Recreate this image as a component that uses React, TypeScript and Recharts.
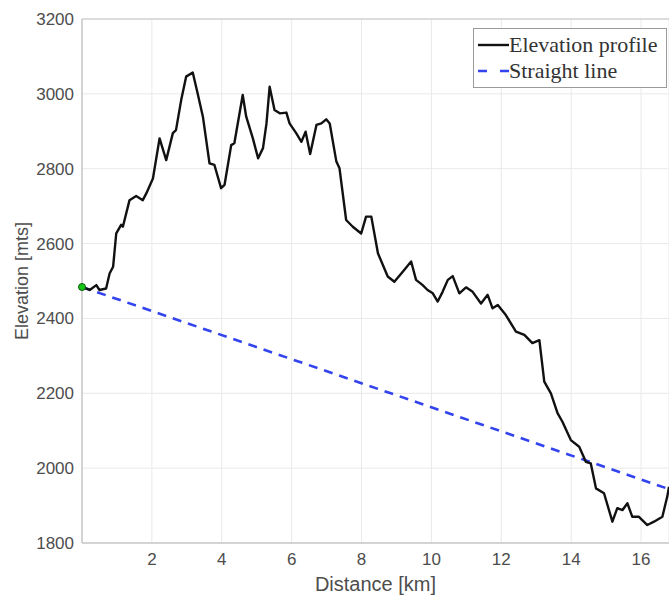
import {
  ComposedChart,
  Line,
  Scatter,
  XAxis,
  YAxis,
  CartesianGrid,
  Label,
  ReferenceLine,
} from "recharts";

// elevation profile (km, m)
const distanceKm = [
  0.0, 0.22, 0.41, 0.5, 0.69, 0.79, 0.89, 0.98, 1.12, 1.17, 1.36, 1.55, 1.74, 1.84, 2.03, 2.22, 2.41, 2.6, 2.69,
  2.84, 2.98, 3.17, 3.31, 3.46, 3.65, 3.79, 3.98, 4.08, 4.27, 4.36, 4.6, 4.7, 4.89, 5.04, 5.18, 5.28, 5.37, 5.51,
  5.66, 5.85, 5.94, 6.13, 6.28, 6.4, 6.53, 6.71, 6.85, 6.99, 7.09, 7.28, 7.37, 7.56, 7.75, 7.99, 8.13, 8.28, 8.47,
  8.75, 8.94, 9.18, 9.42, 9.56, 9.75, 9.89, 10.04, 10.18, 10.32, 10.47, 10.61, 10.8, 10.99, 11.18, 11.42, 11.61,
  11.75, 11.9, 12.13, 12.42, 12.66, 12.89, 13.09, 13.23, 13.42, 13.61, 13.75, 13.99, 14.23, 14.42, 14.56, 14.71,
  14.94, 15.18, 15.32, 15.47, 15.61, 15.75, 15.94, 16.18, 16.37, 16.61, 16.75, 16.8,
];
const elevationM = [
  2484, 2476, 2489, 2476, 2480, 2520, 2538, 2627, 2650, 2645, 2716, 2727, 2716, 2734, 2774, 2881, 2823, 2895, 2903,
  2984, 3046, 3057, 3001, 2939, 2814, 2810, 2748, 2757, 2863, 2868, 2997, 2939, 2881, 2828, 2855, 2921, 3019, 2957,
  2948, 2950, 2921, 2895, 2872, 2899, 2839, 2917, 2921, 2932, 2921, 2819, 2801, 2663, 2645, 2627, 2672, 2672, 2574,
  2512, 2498, 2525, 2552, 2503, 2489, 2476, 2467, 2445, 2471, 2503, 2513, 2467, 2483, 2471, 2440, 2463,
  2427, 2436, 2409, 2365, 2356, 2334, 2342, 2231, 2200, 2147, 2124, 2075, 2057, 2017, 2013, 1946,
  1933, 1857, 1893, 1888, 1906, 1870, 1870, 1848, 1857, 1870, 1924, 1950,
];

// straight line between start and end points
const straightDistance = [0, 16.8];
const straightElevation = [2484, 1944];

const startPoint = [{ d: 0, e: 2484 }];

const xTicks = [2, 4, 6, 8, 10, 12, 14, 16];
const yTicks = [1800, 2000, 2200, 2400, 2600, 2800, 3000, 3200];

const legendItems = [
  { name: "Elevation profile", color: "#111", dash: undefined as string | undefined, width: 2.4 },
  { name: "Straight line", color: "#3344ee", dash: "9 13", width: 2.6 },
];

const profileData = distanceKm.map((d, i) => ({ d, e: elevationM[i] }));
const straightData = straightDistance.map((d, i) => ({ d, e: straightElevation[i] }));

const AXIS_GREY = "#4d4d4d";
const SANS = "'Liberation Sans', Arial, sans-serif";
const SERIF = "'Liberation Serif', 'Times New Roman', serif";

// MATLAB-style boxed legend, drawn over the top right of the axes
function LegendBox() {
  return (
    <div
      style={{
        position: "absolute",
        left: 473,
        top: 28,
        width: 194,
        boxSizing: "border-box",
        border: "1px solid #9a9a9a",
        background: "#fff",
        fontFamily: SERIF,
        fontSize: 22,
        color: "#333",
        padding: "3px 0 3px 4px",
      }}
    >
      {legendItems.map((it) => (
        <div key={it.name} style={{ display: "flex", alignItems: "center", height: 26 }}>
          <svg width={31} height={10} style={{ flex: "none" }}>
            <line x1={0} y1={5} x2={31} y2={5} stroke={it.color} strokeWidth={it.width} strokeDasharray={it.dash} />
          </svg>
          <span style={{ lineHeight: "26px", whiteSpace: "nowrap" }}>{it.name}</span>
        </div>
      ))}
    </div>
  );
}

export default function App() {
  return (
    <div style={{ position: "absolute", left: 0, top: 0, width: 669, height: 596, background: "#fff" }}>
      <ComposedChart width={669} height={596} margin={{ top: 19, right: 0, bottom: 0, left: 0 }}>
        <CartesianGrid stroke="#e9e9e9" />
        <XAxis
          type="number"
          dataKey="d"
          domain={[0, 16.8]}
          ticks={xTicks}
          height={53}
          stroke="#b3b3b3"
          tickLine={false}
          tickSize={0}
          tickMargin={10}
          tick={{ fill: AXIS_GREY, fontSize: 17, fontFamily: SANS }}
        >
          <Label
            value="Distance [km]"
            position="insideBottom"
            offset={5}
            style={{ fill: AXIS_GREY, fontSize: 20, fontFamily: SANS }}
          />
        </XAxis>
        <YAxis
          type="number"
          dataKey="e"
          domain={[1800, 3200]}
          ticks={yTicks}
          width={82}
          stroke="#b3b3b3"
          tickLine={false}
          tickSize={0}
          tickMargin={8}
          tick={{ fill: AXIS_GREY, fontSize: 17, fontFamily: SANS }}
        >
          <Label
            value="Elevation [mts]"
            angle={-90}
            position="insideLeft"
            offset={22}
            style={{ fill: AXIS_GREY, fontSize: 18, fontFamily: SANS, textAnchor: "middle" }}
          />
        </YAxis>
        <ReferenceLine y={3200} stroke="#c4c4c4" />

        <Line
          type="linear"
          data={straightData}
          dataKey="e"
          stroke="#3344ee"
          strokeWidth={2.6}
          strokeDasharray="9 7"
          dot={false}
          isAnimationActive={false}
          name="Straight line"
        />
        <Line
          type="linear"
          data={profileData}
          dataKey="e"
          stroke="#111"
          strokeWidth={2.4}
          strokeLinejoin="round"
          dot={false}
          isAnimationActive={false}
          name="Elevation profile"
        />
        <Scatter
          data={startPoint}
          dataKey="e"
          isAnimationActive={false}
          legendType="none"
          shape={(props: unknown) => {
            const { cx, cy } = props as { cx: number; cy: number };
            return <circle cx={cx} cy={cy} r={3.5} fill="#16c716" stroke="#0a5a0a" strokeWidth={1} />;
          }}
        />
      </ComposedChart>
      <LegendBox />
    </div>
  );
}
